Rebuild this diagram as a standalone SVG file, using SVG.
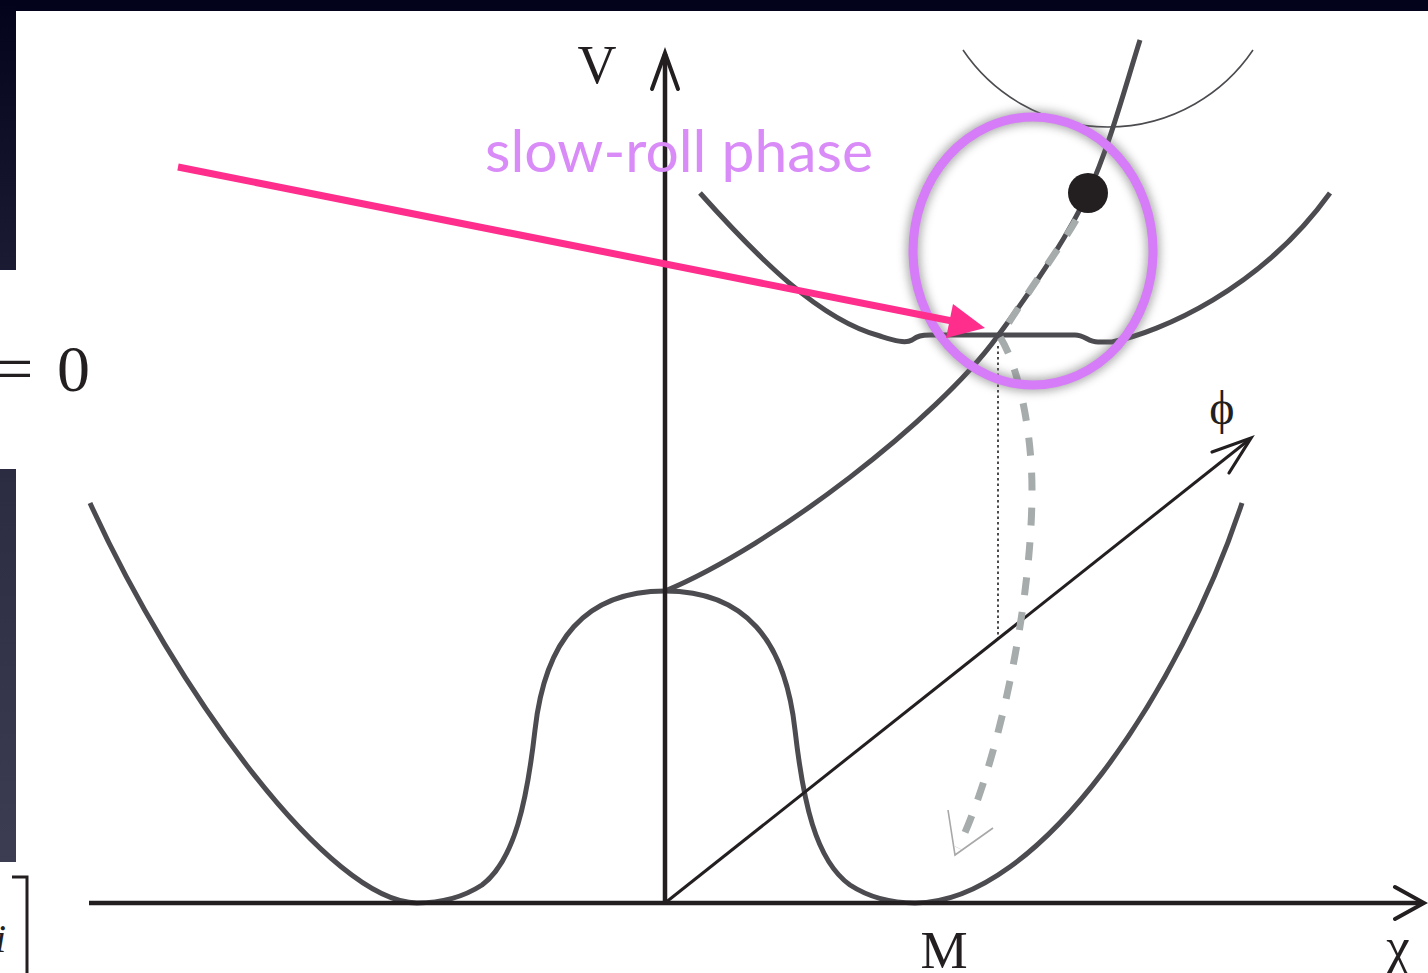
<svg xmlns="http://www.w3.org/2000/svg" width="1428" height="973" viewBox="0 0 1428 973">
  <defs>
    <style>
      .axis { stroke: #231f20; stroke-width: 4.5; fill: none; stroke-linecap: butt; }
      .axthin { stroke: #231f20; stroke-width: 3; fill: none; }
      .head { stroke: #231f20; fill: none; stroke-linecap: round; stroke-linejoin: miter; }
      .curve { stroke: #4b4b50; stroke-width: 5; fill: none; stroke-linecap: butt; }
      .serif { font-family: "Liberation Serif", "DejaVu Serif", serif; fill: #231f20; }
    </style>
    <linearGradient id="stripTop" x1="0" y1="0" x2="0" y2="1">
      <stop offset="0" stop-color="#03041c"/>
      <stop offset="1" stop-color="#1b1b33"/>
    </linearGradient>
    <linearGradient id="stripBot" x1="0" y1="0" x2="0" y2="1">
      <stop offset="0" stop-color="#2b2b42"/>
      <stop offset="1" stop-color="#3c3c52"/>
    </linearGradient>
    <filter id="glow" x="-30%" y="-30%" width="160%" height="160%">
      <feGaussianBlur stdDeviation="5"/>
    </filter>
  </defs>

  <rect x="0" y="0" width="1428" height="973" fill="#ffffff"/>

  <g id="background">
    <rect x="0" y="0" width="1428" height="11" fill="#03041c"/>
    <rect x="0" y="0" width="16" height="270" fill="url(#stripTop)"/>
    <rect x="0" y="469" width="16" height="393" fill="url(#stripBot)"/>
  </g>

  <g id="formula-fragments">
    <text class="serif" y="391" font-size="66"><tspan x="-4">=</tspan><tspan x="57">0</tspan></text>
    <text class="serif" x="-5" y="952" font-size="40" font-style="italic" fill="#1c2650">i</text>
    <path d="M12,877 H27 V973" stroke="#231f20" stroke-width="3" fill="none"/>
  </g>

  <g id="potential-curves">
    <path id="double-well" class="curve" d="M90,503 C175,690 330,903 417,903 C442,903 462,898 482,885 C515,860 527,800 535,730 C545,640 585,591 665,591 C745,591 785,640 795,730 C803,800 815,860 850,885 C870,898 890,903 915,903 C1040,903 1180,690 1242,503"/>
    <path id="valley-trajectory" class="curve" d="M665,591 C775,545 938,418 997,337 C1027,297 1067,238.5 1088,193 C1109,147.5 1125,87.5 1140,40"/>
    <path id="mid-bowl" class="curve" d="M700,193 C760,260 820,320 880,336 C893,340 905,344 912,340 C918,336 921,335 930,335 L1075,335 C1085,335 1088,342 1098,342 L1112,342 C1160,332 1260,290 1330,193"/>
    <path id="top-bowl" d="M963,50 A175,175 0 0 0 1253,50" stroke="#4b4b50" stroke-width="1.6" fill="none"/>
  </g>

  <g id="axes">
    <line class="axis" x1="89" y1="903" x2="1423" y2="903"/>
    <polyline class="head" stroke-width="4" points="1395,887 1424,903 1395,919"/>
    <line class="axis" x1="665" y1="903" x2="665" y2="54"/>
    <polyline class="head" stroke-width="4" points="652,89 665,53 678,89"/>
    <line class="axthin" x1="665" y1="903" x2="1250" y2="439"/>
    <polyline class="head" stroke-width="3.2" points="1212,452 1251,438 1229,473"/>
  </g>

  <g id="field-path">
    <line x1="998" y1="346" x2="998" y2="638" stroke="#231f20" stroke-width="1.6" stroke-dasharray="2.5 3"/>
    <path d="M1076,220 C1060,248 1022,300 1000,337 C1018,365 1032,430 1032,490 C1032,600 1000,760 958,848" stroke="#a6abab" stroke-width="7" fill="none" stroke-dasharray="18 17"/>
    <polyline points="948,810 955,855 993,828" stroke="#a8a8a8" stroke-width="1.6" fill="none"/>
    <circle id="ball" cx="1088" cy="193" r="20" fill="#231f20"/>
  </g>

  <g id="labels">
    <text class="serif" x="597" y="83" font-size="54" text-anchor="middle">V</text>
    <text class="serif" x="944" y="968" font-size="53" text-anchor="middle">M</text>
    <text class="serif" x="1398" y="964" font-size="53" text-anchor="middle">χ</text>
    <text class="serif" x="1222" y="424" font-size="48" text-anchor="middle">ϕ</text>
  </g>

  <g id="slow-roll-highlight">
    <ellipse cx="1033" cy="251" rx="120" ry="134" fill="none" stroke="#6a6a6a" stroke-width="14" opacity="0.55" filter="url(#glow)"/>
    <ellipse cx="1033" cy="251" rx="120" ry="134" fill="none" stroke="#d67cf8" stroke-width="9"/>
    <text x="485" y="172" font-family="Lato, 'Open Sans', sans-serif" font-size="58" fill="#d98bf8" textLength="388" lengthAdjust="spacingAndGlyphs">slow-roll phase</text>
  </g>

  <g id="connectors">
    <line x1="178" y1="167" x2="952" y2="321" stroke="#ff2d8c" stroke-width="7"/>
    <polygon points="985,328 953,304 946,338" fill="#ff2d8c"/>
  </g>
</svg>
